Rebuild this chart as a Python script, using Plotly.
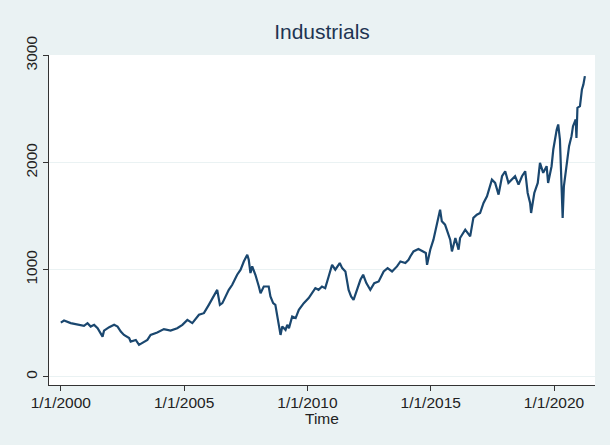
import pandas as pd
import plotly.graph_objects as go

# Industrials index level, sampled as decimal years
years = [
    2000.00, 2000.13, 2000.40, 2000.68, 2000.94, 2001.08, 2001.21, 2001.35, 2001.49, 2001.69,
    2001.75, 2001.96, 2002.16, 2002.30, 2002.43, 2002.56, 2002.77, 2002.83, 2003.04, 2003.17,
    2003.31, 2003.51, 2003.64, 2003.91, 2004.18, 2004.45, 2004.72, 2004.93, 2005.13, 2005.33,
    2005.60, 2005.80, 2006.00, 2006.20, 2006.34, 2006.45, 2006.55, 2006.81, 2006.95, 2007.15,
    2007.29, 2007.42, 2007.56, 2007.62, 2007.69, 2007.76, 2007.89, 2008.03, 2008.10, 2008.23,
    2008.43, 2008.50, 2008.61, 2008.70, 2008.77, 2008.84, 2008.91, 2008.98, 2009.11, 2009.18,
    2009.25, 2009.38, 2009.52, 2009.65, 2009.85, 2010.05, 2010.32, 2010.45, 2010.59, 2010.72,
    2010.86, 2011.00, 2011.13, 2011.31, 2011.41, 2011.54, 2011.67, 2011.77, 2011.87, 2011.98,
    2012.15, 2012.26, 2012.39, 2012.55, 2012.71, 2012.89, 2013.09, 2013.25, 2013.43, 2013.63,
    2013.77, 2013.97, 2014.10, 2014.17, 2014.30, 2014.50, 2014.70, 2014.80, 2014.85, 2014.98,
    2015.11, 2015.25, 2015.38, 2015.45, 2015.58, 2015.65, 2015.79, 2015.86, 2016.00, 2016.13,
    2016.19, 2016.40, 2016.60, 2016.73, 2016.87, 2017.00, 2017.14, 2017.28, 2017.41, 2017.48,
    2017.61, 2017.75, 2017.89, 2018.02, 2018.15, 2018.29, 2018.42, 2018.56, 2018.70, 2018.83,
    2018.93, 2019.03, 2019.07, 2019.20, 2019.34, 2019.43, 2019.56, 2019.70, 2019.76, 2019.90,
    2019.97, 2020.11, 2020.17, 2020.24, 2020.30, 2020.35, 2020.40, 2020.50, 2020.61, 2020.71,
    2020.77, 2020.88, 2020.91, 2020.95, 2021.05, 2021.13, 2021.19, 2021.25,
]
values = [
    505, 524, 500, 484, 475, 500, 468, 484, 453, 374,
    430, 462, 484, 468, 421, 390, 360, 328, 343, 297,
    313, 343, 390, 412, 444, 430, 453, 484, 530, 500,
    578, 593, 671, 749, 811, 671, 687, 811, 858, 952,
    999, 1076, 1139, 1092, 968, 1030, 952, 842, 780, 842,
    842, 749, 687, 671, 593, 484, 390, 468, 437, 484,
    453, 562, 547, 624, 687, 734, 827, 811, 842, 827,
    936, 1045, 999, 1061, 1014, 983, 811, 749, 718, 796,
    905, 952, 874, 811, 874, 889, 983, 1014, 983, 1030,
    1076, 1061, 1092, 1123, 1170, 1192, 1170, 1155, 1045, 1186,
    1280, 1436, 1560, 1451, 1420, 1373, 1280, 1170, 1295, 1186,
    1295, 1373, 1311, 1483, 1513, 1529, 1623, 1685, 1778, 1841,
    1810, 1701, 1872, 1919, 1810, 1841, 1872, 1794, 1872, 1919,
    1716, 1623, 1529, 1716, 1810, 1997, 1904, 1966, 1810, 1966,
    2122, 2309, 2356, 2215, 1872, 1483, 1778, 1935, 2153, 2247,
    2340, 2403, 2231, 2512, 2527, 2684, 2730, 2808,
]

tick_years = [2000, 2005, 2010, 2015, 2020]
tick_labels = ["1/1/2000", "1/1/2005", "1/1/2010", "1/1/2015", "1/1/2020"]
y_ticks = [0, 1000, 2000, 3000]


def to_date(y):
    yr = int(y)
    return pd.Timestamp(yr, 1, 1) + pd.Timedelta(days=(y - yr) * 365.25)


dates = [to_date(y) for y in years]
tick_dates = [pd.Timestamp(y, 1, 1) for y in tick_years]

fig = go.Figure(
    go.Scatter(
        x=dates, y=values, mode="lines",
        line=dict(color="#1a476f", width=2.2),
        hoverinfo="skip",
    )
)

font_family = "Liberation Sans, Arial, sans-serif"

fig.update_layout(
    width=610, height=445,
    margin=dict(l=49, r=15, t=55, b=60),
    paper_bgcolor="#eaf2f3",
    plot_bgcolor="#ffffff",
    showlegend=False,
    font=dict(family=font_family, color="#222222", size=15.5),
    title=dict(
        text="Industrials", x=0.5, xref="paper", xanchor="center",
        y=1 - 32 / 445, yanchor="middle",
        font=dict(size=21, color="#1e3552", family=font_family),
    ),
    xaxis=dict(
        type="date",
        range=[to_date(1999.52), to_date(2021.66)],
        tickvals=tick_dates, ticktext=tick_labels,
        ticks="outside", ticklen=5, tickcolor="#333333", tickwidth=1,
        ticklabelstandoff=-2,
        showline=True, linecolor="#333333", linewidth=1, mirror=False,
        showgrid=False, zeroline=False,
        tickfont=dict(size=15.5, color="#222222"),
    ),
    yaxis=dict(
        range=[-78, 3005],
        tickvals=y_ticks, ticktext=[str(v) for v in y_ticks],
        tickangle=-90,
        ticks="outside", ticklen=5, tickcolor="#333333", tickwidth=1,
        showline=True, linecolor="#333333", linewidth=1, mirror=False,
        showgrid=True, gridcolor="#eaf2f3", gridwidth=1,
        zeroline=False,
        tickfont=dict(size=15.5, color="#222222"),
    ),
    annotations=[
        dict(
            text="Time", xref="paper", yref="paper",
            x=0.5, y=(385 - 418) / 330, xanchor="center", yanchor="middle",
            showarrow=False, font=dict(size=15.5, color="#222222", family=font_family),
        )
    ],
)

fig.write_html("out.html")
